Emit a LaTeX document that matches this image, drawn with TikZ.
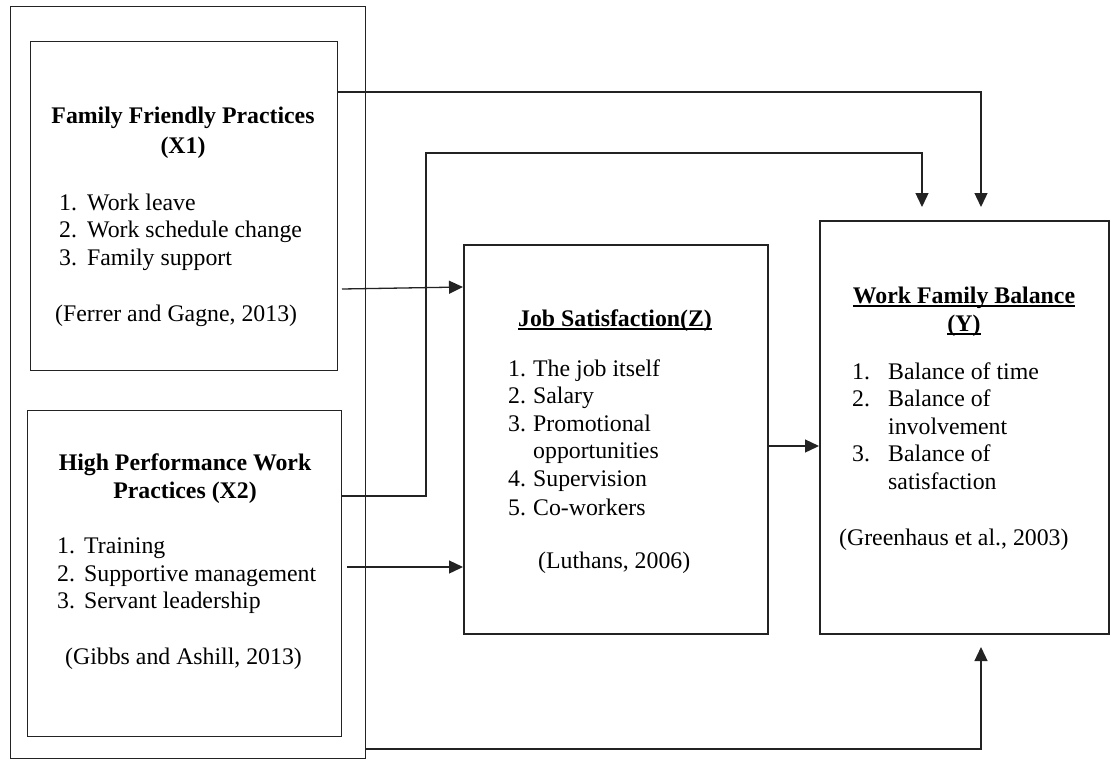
\documentclass[tikz,border=0pt]{standalone}
\usepackage{fontspec}
\setmainfont{Liberation Serif}
\usetikzlibrary{arrows.meta,calc}
\newcommand{\myul}[1]{\setbox0\hbox{#1}\rlap{\rule[-4pt]{\wd0}{1.6pt}}\box0}
\definecolor{ink}{RGB}{35,35,35}
\tikzset{
  frame/.style={draw=ink, line width=1.3pt, anchor=north west, inner sep=0pt},
  boldframe/.style={draw=ink, line width=1.8pt, anchor=north west, inner sep=0pt},
  txt/.style={font=\fontsize{23.8}{27}\selectfont, inner sep=0pt, anchor=base west, text=black},
  ttl/.style={font=\fontsize{23.8}{27}\selectfont\bfseries, inner sep=0pt, anchor=base, text=black},
  conn/.style={draw=ink, line width=1.3pt},
  arr/.style={conn, -{Triangle[length=14pt,width=13pt]}}
}
\begin{document}
\begin{tikzpicture}[x=1pt,y=-1pt]
\useasboundingbox (0,0) rectangle (1111,761);
% boxes
\node[frame, minimum width=355pt, minimum height=752pt] (outer) at (10,6) {};
\node[frame, minimum width=307pt, minimum height=329pt] (x1) at (30,41) {};
\node[frame, minimum width=314pt, minimum height=326pt] (x2) at (27,410) {};
\node[boldframe, minimum width=304pt, minimum height=389pt] (z) at (463,244) {};
\node[boldframe, minimum width=289pt, minimum height=413pt] (y) at (819,220) {};
% X1 text
\node[ttl] (x1t1) at (183,123) {Family Friendly Practices};
\node[ttl] (x1t2) at (183,153) {(X1)};
\node[txt] (x1i1) at (59,210) {\makebox[28pt][l]{1.}Work leave};
\node[txt] (x1i2) at (59,237) {\makebox[28pt][l]{2.}Work schedule change};
\node[txt] (x1i3) at (59,265) {\makebox[28pt][l]{3.}Family support};
\node[txt] (x1c) at (55,321) {(Ferrer and Gagne, 2013)};
% X2 text
\node[ttl] (x2t1) at (185,470) {High Performance Work};
\node[ttl] (x2t2) at (185,498) {Practices (X2)};
\node[txt] (x2i1) at (57,553) {\makebox[27pt][l]{1.}Training};
\node[txt] (x2i2) at (57,581) {\makebox[27pt][l]{2.}Supportive management};
\node[txt] (x2i3) at (57,608) {\makebox[27pt][l]{3.}Servant leadership};
\node[txt] (x2c) at (65,664) {(Gibbs and Ashill, 2013)};
% Z text
\node[ttl] (zt) at (615,326) {\myul{Job Satisfaction(Z)}};
\node[txt] (zi1) at (508,376) {\makebox[25pt][l]{1.}The job itself};
\node[txt] (zi2) at (508,403) {\makebox[25pt][l]{2.}Salary};
\node[txt] (zi3) at (508,431) {\makebox[25pt][l]{3.}Promotional};
\node[txt] (zi3b) at (533,458) {opportunities};
\node[txt] (zi4) at (508,486) {\makebox[25pt][l]{4.}Supervision};
\node[txt] (zi5) at (508,515) {\makebox[25pt][l]{5.}Co-workers};
\node[txt] (zc) at (538,568) {(Luthans, 2006)};
% Y text
\node[ttl] (yt1) at (964,303) {\myul{Work Family Balance}};
\node[ttl] (yt2) at (964,331) {\myul{(Y)}};
\node[txt] (yi1) at (852,379) {\makebox[36pt][l]{1.}Balance of time};
\node[txt] (yi2) at (852,406) {\makebox[36pt][l]{2.}Balance of};
\node[txt] (yi2b) at (888,434) {involvement};
\node[txt] (yi3) at (852,461) {\makebox[36pt][l]{3.}Balance of};
\node[txt] (yi3b) at (888,489) {satisfaction};
\node[txt] (yc) at (839,545) {(Greenhaus et al., 2003)};
% connectors
\coordinate (a1) at (x1.east |- 0,92);
\coordinate (a1c) at (981,92);
\coordinate (a1e) at (981,207);
\draw[arr] (a1) -- (a1c) -- (a1e);
\coordinate (b1) at (x2.east |- 0,496);
\coordinate (b1c) at (426,496);
\coordinate (b2c) at (426,153);
\coordinate (b3c) at (922,153);
\coordinate (b1e) at (922,207);
\draw[arr] (b1) -- (b1c) -- (b2c) -- (b3c) -- (b1e);
\coordinate (c1) at (342,289);
\draw[arr] (c1) -- (z.west |- 0,287);
\coordinate (d1) at (347,567);
\draw[arr] (d1) -- (z.west |- d1);
\draw[arr] (z.east |- 0,446) -- (y.west |- 0,446);
\coordinate (e1) at (outer.east |- 0,749);
\coordinate (e1c) at (981,749);
\coordinate (e1e) at (981,647);
\draw[arr] (e1) -- (e1c) -- (e1e);
\end{tikzpicture}
\end{document}
